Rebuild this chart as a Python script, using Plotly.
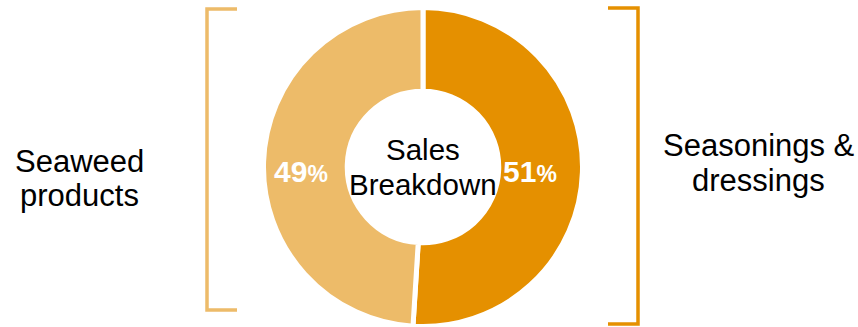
import plotly.graph_objects as go

# Sales breakdown by segment (percent of total)
segments = ["Seasonings & dressings", "Seaweed products"]
shares = [51, 49]
segment_colors = ["#E59000", "#EDBB69"]

center_lines = ["Sales", "Breakdown"]
left_lines = ["Seaweed", "products"]
right_lines = ["Seasonings &", "dressings"]

W, H = 858, 327
FONT = "Arial, Liberation Sans, sans-serif"


def px_x(x):
    return x / W


def px_y(y):
    return 1 - y / H


cx, cy, r = 423, 167, 159.5

fig = go.Figure(
    go.Pie(
        labels=segments,
        values=shares,
        sort=False,
        direction="clockwise",
        rotation=0,
        hole=0.475,
        marker=dict(colors=segment_colors, line=dict(color="white", width=5)),
        textinfo="none",
        hoverinfo="label+percent",
        showlegend=False,
        domain=dict(
            x=[px_x(cx - r), px_x(cx + r)],
            y=[px_y(cy + r), px_y(cy - r)],
        ),
    )
)


def line_annotation(text, x, baseline, size, color="black", bold=False):
    if bold:
        text = f"<b>{text}</b>"
    return dict(
        text=text,
        x=px_x(x),
        y=px_y(baseline - 0.35 * size),
        xref="paper",
        yref="paper",
        xanchor="center",
        yanchor="middle",
        showarrow=False,
        font=dict(family=FONT, size=size, color=color),
    )


annotations = []
for text, base in zip(center_lines, [160, 195]):
    annotations.append(line_annotation(text, 422.5, base, 29.5))
for text, base in zip(left_lines, [172, 206]):
    annotations.append(line_annotation(text, 79.5, base, 31))
for text, base in zip(right_lines, [156.7, 191.7]):
    annotations.append(line_annotation(text, 758.5, base, 31))

# Percentage labels inside the ring, right slice then left slice
for value, x in zip(shares, [530, 301]):
    annotations.append(
        line_annotation(
            f"{value}<span style='font-size:23px'>%</span>",
            x, 182, 30, color="white", bold=True,
        )
    )


def bracket(x_tip, x_spine, y_top, y_bot, color):
    path = (
        f"M {px_x(x_tip)},{px_y(y_top)} L {px_x(x_spine)},{px_y(y_top)} "
        f"L {px_x(x_spine)},{px_y(y_bot)} L {px_x(x_tip)},{px_y(y_bot)}"
    )
    return dict(
        type="path",
        path=path,
        xref="paper",
        yref="paper",
        line=dict(color=color, width=3.5),
    )


shapes = [
    bracket(237, 207, 9, 310, segment_colors[1]),
    bracket(608, 638, 8, 324, segment_colors[0]),
]

fig.update_layout(
    width=W,
    height=H,
    margin=dict(l=0, r=0, t=0, b=0),
    paper_bgcolor="white",
    plot_bgcolor="white",
    annotations=annotations,
    shapes=shapes,
)

fig.write_html("out.html")
